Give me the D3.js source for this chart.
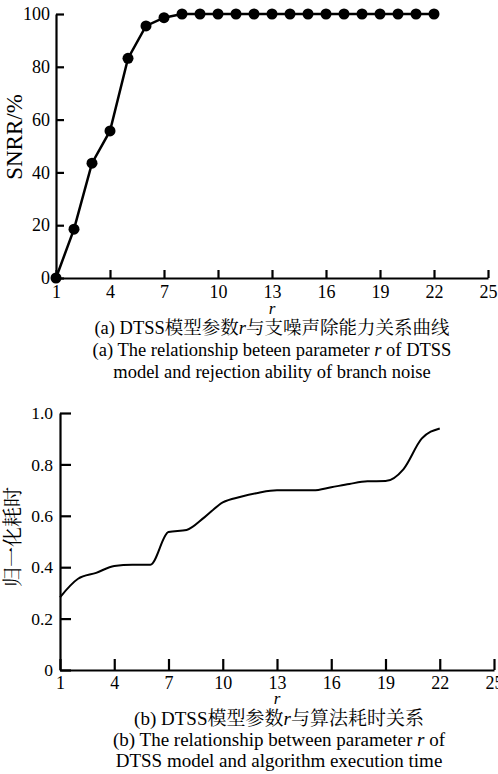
<!DOCTYPE html>
<html>
<head>
  <meta charset="utf-8">
  <script src="https://cdn.jsdelivr.net/npm/d3@7"></script>
  <style>
    body { margin: 0; background: #fff; }
  </style>
</head>
<body>
<script>
  // ---- data ----
  var rValues = d3.range(1, 23);               // r = 1 .. 22
  var snrr = [0, 18.5, 43.5, 55.7, 83.2, 95.5, 98.6, 100, 100, 100, 100,
              100, 100, 100, 100, 100, 100, 100, 100, 100, 100, 100];
  var execTime = [0.283, 0.355, 0.378, 0.405, 0.41, 0.41, 0.537, 0.545, 0.595, 0.652, 0.674,
                  0.69, 0.699, 0.699, 0.699, 0.711, 0.724, 0.734, 0.735, 0.782, 0.9, 0.94];
  var xTicks = [1, 4, 7, 10, 13, 16, 19, 22, 25];
  var yTicksA = [0, 20, 40, 60, 80, 100];
  var yTicksB = [0, 0.2, 0.4, 0.6, 0.8, 1.0];

  var FONT = "'Liberation Serif', 'Noto Serif CJK SC', 'Noto Sans CJK SC', serif";

  var svg = d3.select("body").append("svg")
      .attr("width", 498)
      .attr("height", 774)
      .style("font-family", FONT);

  function styleAxis(size) {
    return function (g) {
      g.attr("font-family", null).attr("font-size", null);
      g.selectAll("path.domain").attr("stroke", "#000").attr("stroke-width", 2.2);
      g.selectAll(".tick line").attr("stroke", "#000").attr("stroke-width", 2.2);
      g.selectAll(".tick text")
          .style("font-family", FONT)
          .style("font-size", size + "px")
          .attr("fill", "#000");
    };
  }

  // caption helper: lines are arrays of [text, italic] pieces
  function caption(cx, y0, gap, size, lines) {
    lines.forEach(function (parts, i) {
      var t = svg.append("text")
          .attr("x", cx)
          .attr("y", y0 + i * gap)
          .attr("text-anchor", "middle")
          .style("font-family", FONT)
          .style("font-size", size + "px");
      parts.forEach(function (p) {
        t.append("tspan").text(p[0]).style("font-style", p[1] ? "italic" : "normal");
      });
    });
  }

  /* ---------- (a) SNRR vs r ---------- */
  var xA = d3.scaleLinear().domain([1, 25]).range([56, 488]);
  var yA = d3.scaleLinear().domain([0, 100]).range([278, 14]);

  svg.append("g")
      .attr("transform", "translate(0," + yA(0) + ")")
      .call(d3.axisBottom(xA).tickValues(xTicks).tickSizeInner(-8).tickSizeOuter(0).tickPadding(7))
      .call(styleAxis(18));

  svg.append("g")
      .attr("transform", "translate(" + xA(1) + ",0)")
      .call(d3.axisLeft(yA).tickValues(yTicksA).tickSizeInner(-8).tickSizeOuter(0).tickPadding(6))
      .call(styleAxis(18));

  var lineA = d3.line()
      .x(function (d, i) { return xA(rValues[i]); })
      .y(function (d) { return yA(d); });

  svg.append("path")
      .datum(snrr)
      .attr("fill", "none")
      .attr("stroke", "#000")
      .attr("stroke-width", 2.5)
      .attr("d", lineA);

  svg.selectAll("circle.ptA")
      .data(snrr)
      .enter().append("circle")
      .attr("class", "ptA")
      .attr("cx", function (d, i) { return xA(rValues[i]); })
      .attr("cy", function (d) { return yA(d); })
      .attr("r", 5.5)
      .attr("fill", "#000");

  svg.append("text")
      .attr("transform", "translate(22,137) rotate(-90)")
      .attr("text-anchor", "middle")
      .style("font-family", FONT)
      .style("font-size", "23px")
      .text("SNRR/%");

  svg.append("text")
      .attr("x", xA(13))
      .attr("y", 314)
      .attr("text-anchor", "middle")
      .style("font-family", FONT)
      .style("font-size", "17px")
      .style("font-style", "italic")
      .text("r");

  caption(272, 334, 22, 18.5, [
    [["(a) DTSS模型参数", false], ["r", true], ["与支噪声除能力关系曲线", false]],
    [["(a) The relationship beteen parameter ", false], ["r", true], [" of DTSS", false]],
    [["model and rejection ability of branch noise", false]]
  ]);

  /* ---------- (b) normalised time vs r ---------- */
  var xB = d3.scaleLinear().domain([1, 25]).range([60, 494]);
  var yB = d3.scaleLinear().domain([0, 1]).range([670, 413]);

  svg.append("g")
      .attr("transform", "translate(0," + yB(0) + ")")
      .call(d3.axisBottom(xB).tickValues(xTicks).tickSizeInner(-11).tickSizeOuter(0).tickPadding(6))
      .call(styleAxis(18));

  svg.append("g")
      .attr("transform", "translate(" + xB(1) + ",0)")
      .call(d3.axisLeft(yB).tickValues(yTicksB).tickSizeInner(-11).tickSizeOuter(0).tickPadding(7)
        .tickFormat(function (d) { return d === 0 ? "0" : d3.format(".1f")(d); }))
      .call(styleAxis(17.5));

  var lineB = d3.line()
      .x(function (d, i) { return xB(rValues[i]); })
      .y(function (d) { return yB(d); })
      .curve(d3.curveMonotoneX);

  svg.append("path")
      .datum(execTime)
      .attr("fill", "none")
      .attr("stroke", "#000")
      .attr("stroke-width", 2)
      .attr("d", lineB);

  svg.append("text")
      .attr("transform", "translate(20,537) rotate(-90)")
      .attr("text-anchor", "middle")
      .style("font-family", FONT)
      .style("font-size", "20px")
      .text("归一化耗时");

  svg.append("text")
      .attr("x", xB(13))
      .attr("y", 704)
      .attr("text-anchor", "middle")
      .style("font-family", FONT)
      .style("font-size", "17px")
      .style("font-style", "italic")
      .text("r");

  caption(279, 725, 21, 19, [
    [["(b) DTSS模型参数", false], ["r", true], ["与算法耗时关系", false]],
    [["(b) The relationship between parameter ", false], ["r", true], [" of", false]],
    [["DTSS model and algorithm execution time", false]]
  ]);
</script>
</body>
</html>
